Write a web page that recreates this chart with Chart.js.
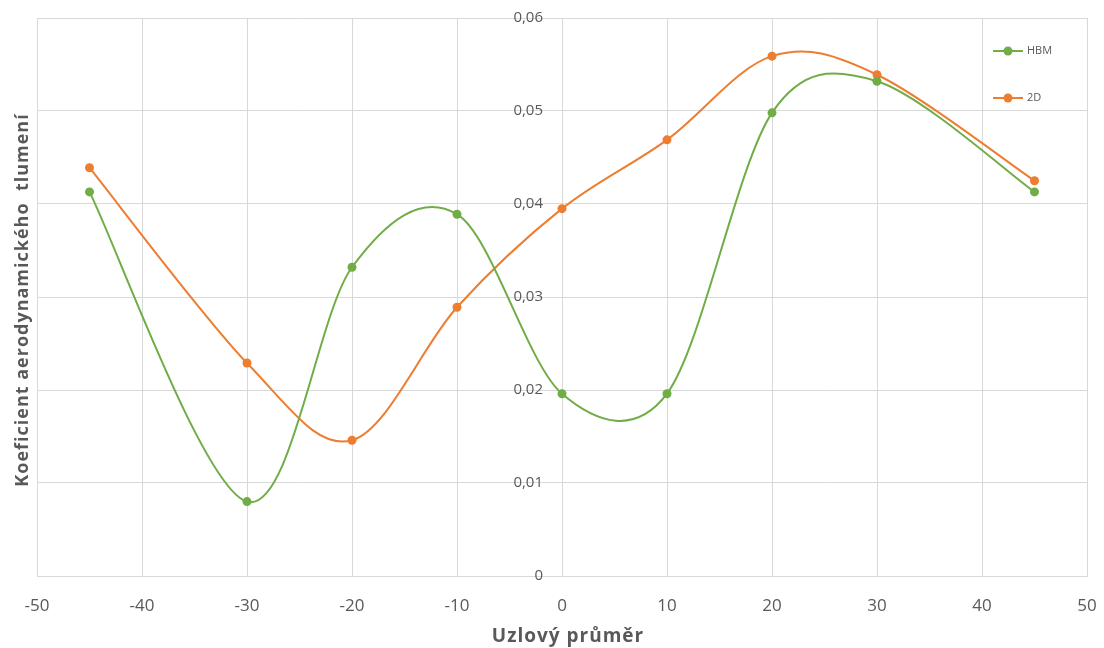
<!DOCTYPE html>
<html>
<head>
<meta charset="utf-8">
<script src="https://cdn.jsdelivr.net/npm/chart.js@4"></script>
<style>
  html, body { margin: 0; padding: 0; background: #ffffff; }
  #wrap { width: 1104px; height: 648px; }
</style>
</head>
<body>
<div id="wrap"><canvas id="c" width="1104" height="648"></canvas></div>
<script>
const nodalDiameters = [-45, -30, -20, -10, 0, 10, 20, 30, 45];
const hbmValues = [0.0413, 0.0080, 0.0332, 0.0389, 0.0196, 0.0196, 0.0498, 0.0532, 0.0413];
const values2D  = [0.0439, 0.0229, 0.0146, 0.0289, 0.0395, 0.0469, 0.0559, 0.0539, 0.0425];
const seriesNames = ['HBM', '2D'];
const xTitle = 'Uzlový průměr';
const yTitle = 'Koeficient aerodynamického  tlumení';

const GREEN = '#70AD47';
const ORANGE = '#ED7D31';
const GRID = '#d9d9d9';
const TEXT = '#595959';
const FONT = "'Open Sans', 'DejaVu Sans', sans-serif";

function toPoints(values) {
  return nodalDiameters.map((x, i) => ({ x: x, y: values[i] }));
}

// Draw a scale title with a little letter spacing and a small offset
function spacedTitle(scale, spacing, dx, dy) {
  if (scale.__spaced) return;
  const orig = scale.drawTitle.bind(scale);
  scale.drawTitle = function () {
    const ctx = scale.ctx;
    const prev = ctx.letterSpacing;
    ctx.save();
    ctx.translate(dx, dy);
    ctx.letterSpacing = spacing;
    orig();
    ctx.letterSpacing = prev || '0px';
    ctx.restore();
  };
  scale.__spaced = true;
}

// Shift the labels of the centred y axis to the left of the axis line
function shiftLabels(scale, dx) {
  if (scale.__shifted) return;
  const orig = scale.drawLabels.bind(scale);
  scale.drawLabels = function (ca) {
    const ctx = scale.ctx;
    ctx.save();
    ctx.translate(dx, 0);
    orig(ca);
    ctx.restore();
  };
  scale.__shifted = true;
}

function noEdgePadding(scale) {
  scale.paddingLeft = 0;
  scale.paddingRight = 0;
  scale.paddingTop = 0;
  scale.paddingBottom = 0;
}

// Spreadsheet-style smoothing: Bezier control arms of 1/6 of the chord
// through the neighbours, capped to half of the adjacent segment.
const smoothingPlugin = {
  id: 'sheetSmoothing',
  beforeDatasetDraw(chart, args) {
    const meta = args.meta;
    const line = meta.dataset;
    if (!line) return;
    line.updateControlPoints(chart.chartArea, 'x');
    const pts = meta.data;
    const F = 1 / 6;
    for (let i = 0; i < pts.length; i++) {
      const p = pts[i];
      const prev = pts[i - 1] || p;
      const next = pts[i + 1] || p;
      const ax = next.x - prev.x, ay = next.y - prev.y;
      const alen = Math.hypot(ax, ay) || 1;
      const dPrev = Math.hypot(p.x - prev.x, p.y - prev.y);
      const dNext = Math.hypot(next.x - p.x, next.y - p.y);
      const fPrev = Math.min(F, 0.5 * dPrev / alen);
      const fNext = Math.min(F, 0.5 * dNext / alen);
      p.cp1x = p.x - fPrev * ax; p.cp1y = p.y - fPrev * ay;
      p.cp2x = p.x + fNext * ax; p.cp2y = p.y + fNext * ay;
    }
    line._path = undefined;
  }
};

const legendPlugin = {
  id: 'customLegend',
  afterDatasetsDraw(chart) {
    const ctx = chart.ctx;
    const ca = chart.chartArea;
    const x0 = ca.right - 94;
    const ys = [ca.top + 33, ca.top + 80];
    chart.data.datasets.forEach((ds, i) => {
      const y = ys[i];
      ctx.save();
      ctx.strokeStyle = ds.borderColor;
      ctx.lineWidth = 2;
      ctx.beginPath();
      ctx.moveTo(x0, y);
      ctx.lineTo(x0 + 30, y);
      ctx.stroke();
      ctx.fillStyle = ds.borderColor;
      ctx.beginPath();
      ctx.arc(x0 + 15, y, 4.5, 0, Math.PI * 2);
      ctx.fill();
      ctx.fillStyle = TEXT;
      ctx.font = "11px " + FONT;
      ctx.textBaseline = 'middle';
      ctx.textAlign = 'left';
      ctx.fillText(ds.label, x0 + 34, y);
      ctx.restore();
    });
  }
};

new Chart(document.getElementById('c'), {
  type: 'line',
  data: {
    datasets: [
      {
        label: seriesNames[0],
        data: toPoints(hbmValues),
        borderColor: GREEN,
        backgroundColor: GREEN,
        pointBackgroundColor: GREEN,
        pointBorderColor: GREEN,
        borderWidth: 2,
        pointRadius: 4.5,
        pointBorderWidth: 0,
        tension: 0.4,
        fill: false
      },
      {
        label: seriesNames[1],
        data: toPoints(values2D),
        borderColor: ORANGE,
        backgroundColor: ORANGE,
        pointBackgroundColor: ORANGE,
        pointBorderColor: ORANGE,
        borderWidth: 2,
        pointRadius: 4.5,
        pointBorderWidth: 0,
        tension: 0.4,
        fill: false
      }
    ]
  },
  options: {
    responsive: false,
    animation: false,
    devicePixelRatio: 1,
    layout: { padding: { left: 0, right: 17, top: 18, bottom: 0 } },
    plugins: {
      legend: { display: false },
      tooltip: { enabled: false }
    },
    scales: {
      x: {
        type: 'linear',
        position: 'bottom',
        min: -50,
        max: 50,
        ticks: {
          stepSize: 10,
          color: TEXT,
          font: { family: FONT, size: 17 },
          padding: 20,
          maxRotation: 0
        },
        grid: { color: GRID, lineWidth: 1, drawTicks: false },
        border: { color: GRID, width: 1 },
        title: {
          display: true,
          text: xTitle,
          color: TEXT,
          font: { family: FONT, size: 19, weight: 'bold' },
          padding: { top: 0, bottom: 0 }
        },
        afterFit(scale) { scale.height = 72; noEdgePadding(scale); },
        afterUpdate(scale) { spacedTitle(scale, '1px', 6, 0); }
      },
      y: {
        type: 'linear',
        position: { x: 0 },
        min: 0,
        max: 0.06,
        ticks: {
          stepSize: 0.01,
          color: TEXT,
          font: { family: FONT, size: 15 },
          callback: (v) => (Math.abs(v) < 1e-9 ? '0' : v.toFixed(2).replace('.', ','))
        },
        grid: { color: GRID, lineWidth: 1, drawTicks: false },
        border: { color: GRID, width: 1 },
        afterFit(scale) { noEdgePadding(scale); },
        afterUpdate(scale) { shiftLabels(scale, -19); }
      },
      yt: {
        type: 'linear',
        position: 'left',
        display: true,
        min: 0,
        max: 1,
        ticks: { display: false },
        grid: { display: false, drawTicks: false },
        border: { display: false },
        title: {
          display: true,
          text: yTitle,
          color: TEXT,
          font: { family: FONT, size: 18, weight: 'bold' },
          padding: { top: 12, bottom: 0 }
        },
        afterFit(scale) { scale.width = 37; noEdgePadding(scale); },
        afterUpdate(scale) { spacedTitle(scale, '1px', 0, 3); }
      }
    }
  },
  plugins: [smoothingPlugin, legendPlugin]
});
</script>
</body>
</html>
